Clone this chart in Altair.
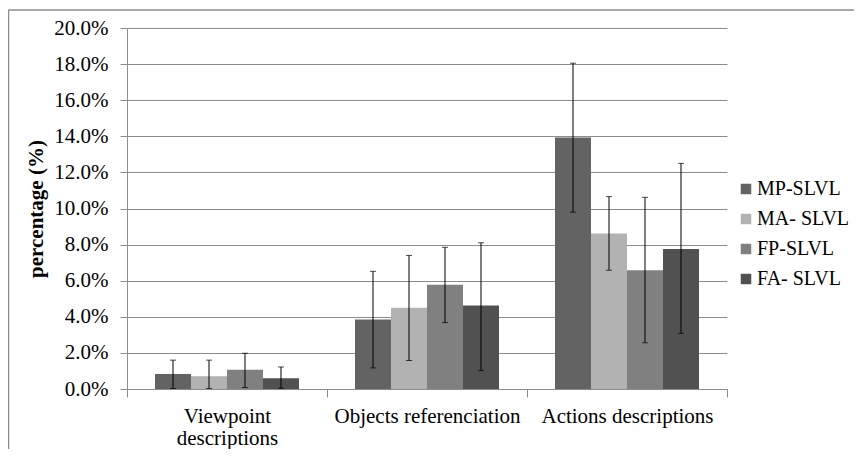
import altair as alt
import pandas as pd

categories = ["Viewpoint descriptions", "Objects referenciation", "Actions descriptions"]
series = ["MP-SLVL", "MA- SLVL", "FP-SLVL", "FA- SLVL"]
colors = ["#636363", "#b2b2b2", "#808080", "#515151"]

# values in percent, per series across categories
mp_vals = [0.83, 3.85, 13.93]
ma_vals = [0.70, 4.50, 8.62]
fp_vals = [1.07, 5.78, 6.58]
fa_vals = [0.60, 4.62, 7.76]

mp_low = [0.03, 1.17, 9.80]
ma_low = [0.03, 1.58, 6.58]
fp_low = [0.08, 3.68, 2.56]
fa_low = [0.04, 1.02, 3.08]

mp_high = [1.60, 6.52, 18.05]
ma_high = [1.60, 7.40, 10.66]
fp_high = [1.98, 7.85, 10.62]
fa_high = [1.22, 8.10, 12.50]

y_ticks = [0, 2, 4, 6, 8, 10, 12, 14, 16, 18, 20]

vals = [mp_vals, ma_vals, fp_vals, fa_vals]
lows = [mp_low, ma_low, fp_low, fa_low]
highs = [mp_high, ma_high, fp_high, fa_high]

rows = []
for s, v, lo, hi in zip(series, vals, lows, highs):
    for c, a, b, d in zip(categories, v, lo, hi):
        rows.append({"category": c, "series": s, "value": a / 100, "low": b / 100, "high": d / 100})
df = pd.DataFrame(rows)

FONT = "Liberation Serif"

x_axis = alt.Axis(title=None, labelAngle=0, tickBand="extent", tickSize=8,
                  labelPadding=8, labelLineHeight=22, labelOverlap=False, labelLimit=0,
                  labelExpr="datum.label == 'Viewpoint descriptions' ? ['Viewpoint', 'descriptions'] : datum.label")
y_axis = alt.Axis(title="percentage (%)", format=".1%", values=[t / 100 for t in y_ticks],
                  tickCount=11, tickSize=7, labelPadding=12,
                  titleX=-85, titleY=180.5, titleAngle=270, titleAlign="center",
                  titleBaseline="alphabetic",
                  labelOverlap=False, grid=True)

y_scale = alt.Scale(domain=[0, 0.2], nice=False)
x_scale = alt.Scale(paddingInner=0, paddingOuter=0)
xo_scale = alt.Scale(paddingInner=0, paddingOuter=0.7778)

X = alt.X("category:N", sort=categories, scale=x_scale, axis=x_axis)
XO = alt.XOffset("series:N", sort=series, scale=xo_scale)

bars = alt.Chart(df).mark_bar().encode(
    x=X,
    xOffset=XO,
    y=alt.Y("value:Q", scale=y_scale, axis=y_axis),
    color=alt.Color("series:N", sort=series,
                    scale=alt.Scale(domain=series, range=colors),
                    legend=alt.Legend(title=None, orient="none", legendX=609, legendY=151,
                                      symbolType="square", symbolSize=110, symbolStrokeWidth=0,
                                      rowPadding=10, labelOffset=1, labelLimit=0)),
)

err = alt.Chart(df).mark_rule(color="#000", strokeWidth=1).encode(
    x=X, xOffset=XO,
    y=alt.Y("low:Q", scale=y_scale, axis=y_axis),
    y2="high:Q",
)
cap_hi = alt.Chart(df).mark_tick(color="#000", thickness=1, size=6).encode(
    x=X, xOffset=XO,
    y=alt.Y("high:Q", scale=y_scale, axis=y_axis),
)
cap_lo = alt.Chart(df).mark_tick(color="#000", thickness=1, size=6).encode(
    x=X, xOffset=XO,
    y=alt.Y("low:Q", scale=y_scale, axis=y_axis),
)

one = alt.Data(values=[{"k": 1}])
frame_top = alt.Chart(one).mark_rule(color="#8c8c8c", strokeWidth=1.5).encode(
    x=alt.value(-118.5), x2=alt.value(740), y=alt.value(-18))
frame_left = alt.Chart(one).mark_rule(color="#8c8c8c", strokeWidth=1.5).encode(
    x=alt.value(-118.5), y=alt.value(-18), y2=alt.value(440))

chart = alt.layer(bars, err, cap_hi, cap_lo, frame_top, frame_left).properties(
    width=600, height=361,
    autosize=alt.AutoSizeParams(type="none"),
    padding={"left": 119, "top": 20, "right": 127, "bottom": 60},
).configure_view(stroke=None).configure_axis(
    labelFont=FONT, labelFontSize=21, labelColor="#000",
    titleFont=FONT, titleFontSize=21, titleFontWeight="bold", titleColor="#000",
    tickColor="#8c8c8c", domainColor="#8c8c8c", gridColor="#8c8c8c",
).configure_axisX(grid=False).configure_legend(
    labelFont=FONT, labelFontSize=20, labelColor="#000",
)

chart.save("out.html", embed_options={"renderer": "svg", "actions": False})
